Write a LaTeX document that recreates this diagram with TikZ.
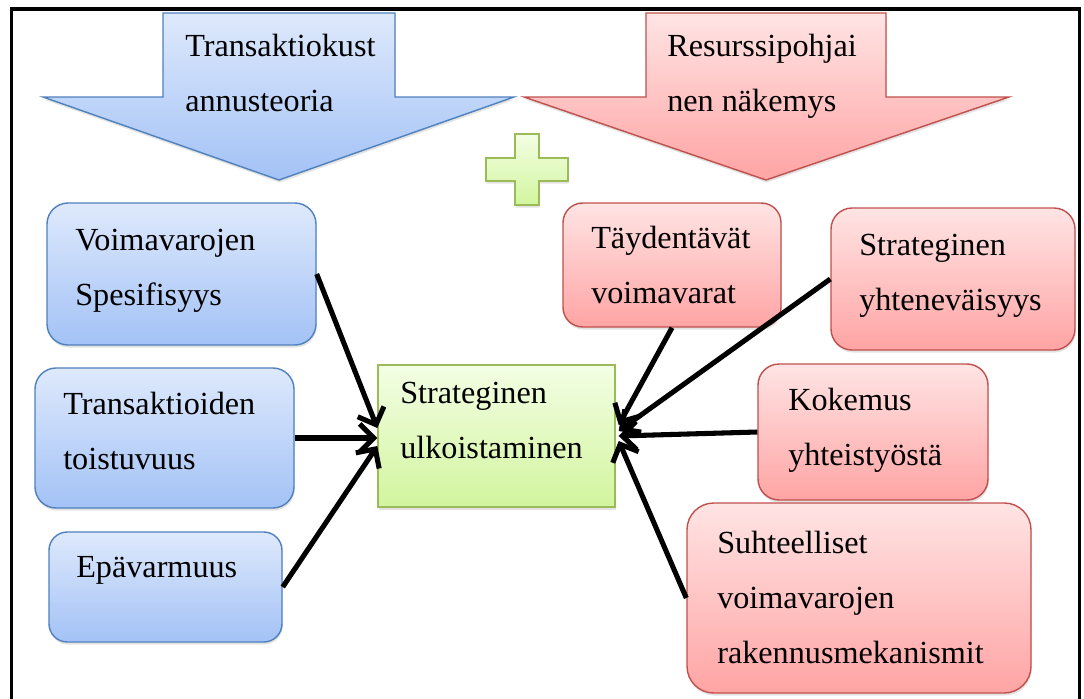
\documentclass[tikz,border=0pt]{standalone}
\usepackage{fontspec}
\setmainfont{Liberation Serif}
\usetikzlibrary{arrows.meta,fit,calc,shadows}

\definecolor{bluetop}{HTML}{DEE9FC}
\definecolor{bluebot}{HTML}{A3C2F6}
\definecolor{blueline}{HTML}{4F81BD}
\definecolor{redtop}{HTML}{FFE4E4}
\definecolor{redbot}{HTML}{FFA4A4}
\definecolor{redline}{HTML}{C0504D}
\definecolor{greentop}{HTML}{F3FEE4}
\definecolor{greenbot}{HTML}{D2F59E}
\definecolor{greenline}{HTML}{9BBB59}

\tikzset{
  softshadow/.style={drop shadow={opacity=0.22,shadow xshift=0.5pt,shadow yshift=-1.8pt}},
  bluefill/.style={draw=blueline, line width=1pt, top color=bluetop, bottom color=bluebot, softshadow},
  redfill/.style={draw=redline, line width=1pt, top color=redtop, bottom color=redbot, softshadow},
  greenfill/.style={draw=greenline, line width=1pt, top color=greentop, bottom color=greenbot, softshadow},
  bluebox/.style={bluefill, inner sep=0pt},
  redbox/.style={redfill, inner sep=0pt},
  greenbox/.style={greenfill, inner sep=0pt},
  % multi-line labels are placed by the baseline of their last line
  lbl/.style={inner sep=0pt, anchor=base west, align=left,
              font=\fontsize{22.9}{39.1}\selectfont},
  conn/.style={line width=3.6pt, -{Straight Barb[length=10pt,width=20pt]}},
}

\begin{document}
\begin{tikzpicture}[x=0.025cm,y=-0.025cm]
\useasboundingbox (0,0) rectangle (1084,698);
\fill[white] (0,0) rectangle (1084,698);

% outer frame, open at the bottom of the page
\draw[line width=2.2pt] (11.5,740) -- (11.5,9) -- (1079.5,9) -- (1079.5,740);

% the two theory arrows
\path[bluefill] (163,13) -- (395,13) -- (395,97) -- (514,97) -- (279,180)
  -- (43,97) -- (163,97) -- cycle;
\node[lbl] (tcost) at (185,111) {Transaktiokust\\annusteoria};

\path[redfill] (646,13) -- (886,13) -- (886,97) -- (1009,97) -- (766,180)
  -- (524,97) -- (646,97) -- cycle;
\node[lbl] (rbv) at (667,111) {Resurssipohjai\\nen näkemys};

% plus sign between the arrows
\path[greenfill] (515,134) -- (539,134) -- (539,158) -- (568,158) -- (568,181)
  -- (539,181) -- (539,205) -- (515,205) -- (515,181) -- (486,181)
  -- (486,158) -- (515,158) -- cycle;

% transaction cost factors
\node[bluebox, rounded corners=15pt, fit={(47,203) (316,345)}] (b1) {};
\node[lbl] (b1t) at (75,305) {Voimavarojen\\Spesifisyys};

\node[bluebox, rounded corners=15pt, fit={(35,368) (294,508)}] (b2) {};
\node[lbl] (b2t) at (63,469) {Transaktioiden\\toistuvuus};

\node[bluebox, rounded corners=13pt, fit={(49,532) (282,642)}] (b3) {};
\node[lbl] (b3t) at (76,577) {Epävarmuus};

% resource based factors
\node[redbox, rounded corners=14pt, fit={(563,203) (781,327)}] (r1) {};
\node[lbl] (r1t) at (591,303) {Täydentävät\\voimavarat};

\node[redbox, rounded corners=15pt, fit={(831,208) (1075,350)}] (r2) {};
\node[lbl] (r2t) at (859,310) {Strateginen\\yhteneväisyys};

\node[redbox, rounded corners=15pt, fit={(758,364) (988,500)}] (r3) {};
\node[lbl] (r3t) at (788,465) {Kokemus\\yhteistyöstä};

\node[redbox, rounded corners=19pt, fit={(687,503) (1031,693)}] (r4) {};
\node[lbl] (r4t) at (717,663) {Suhteelliset\\voimavarojen\\rakennusmekanismit};

% central decision
\node[greenbox, fit={(378,365) (615,507)}] (c) {};
\node[lbl] (ct) at (400,458) {Strateginen\\ulkoistaminen};

% influences
\draw[conn] (b1.east) -- ($(c.west)+(0,-8)$);
\draw[conn] (b2.east) -- ($(c.west)+(0,2)$);
\draw[conn] (b3.east) -- ($(c.west)+(0,10)$);

\draw[conn] (r1.south) -- ($(c.east)+(3,-11)$);
\draw[conn] (r2.west) -- ($(c.east)+(3,-5)$);
\draw[conn] (r3.west) -- ($(c.east)+(3,0)$);
\draw[conn] (r4.west) -- ($(c.east)+(3,5)$);
\end{tikzpicture}
\end{document}
